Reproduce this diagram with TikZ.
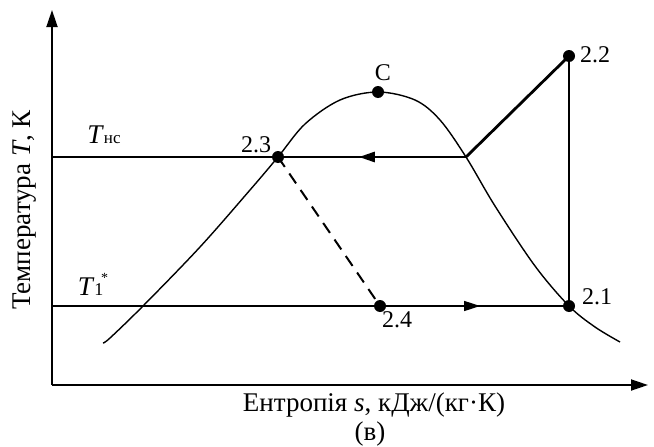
\documentclass[tikz,border=0pt]{standalone}
\usepackage{fontspec}
\setmainfont{Liberation Serif}
\usetikzlibrary{arrows.meta,decorations.markings}
\tikzset{
  axis/.style={line width=1.8pt,-{Triangle[length=17pt,width=11pt]}},
  thinline/.style={line width=1.4pt},
  thickline/.style={line width=2.8pt},
  dashline/.style={line width=2pt,dash pattern=on 12pt off 8pt},
  dot/.style={circle,fill=black,inner sep=0pt,minimum size=12pt},
  lbl/.style={font=\fontsize{24}{27}\selectfont,inner sep=0pt},
  axlbl/.style={font=\fontsize{27}{31}\selectfont,inner sep=0pt},
  midarrow/.style={postaction={decorate},decoration={markings,
      mark=at position #1 with {\arrow{Triangle[length=16pt,width=10pt]}}}}
}
\begin{document}
\begin{tikzpicture}[x=1pt,y=-1pt]
\useasboundingbox (0,0) rectangle (654,447);
% axes
\coordinate (O) at (52,385);
\coordinate (ytip) at (52,10);
\coordinate (xtip) at (648,385);
\draw[axis] (O) -- (ytip);
\draw[axis] (O) -- (xtip);
% reference points
\coordinate (ya) at (52,157);
\coordinate (yb) at (52,306);
\coordinate (X) at (466,157);
\node[dot] (p21) at (569,306) {};
\node[dot] (p22) at (569,56) {};
\node[dot] (p23) at (278,157) {};
\node[dot] (p24) at (380,306) {};
\node[dot] (C) at (378,92) {};
% saturation dome
\draw[thinline] plot[smooth,tension=0.55] coordinates {
 (103,343) (110,338) (143,306) (200,247) (250,190) (278,157) (305,124) (340,100)
 (378,92) (415,100) (440,120) (466,157) (495,206) (535,266) (569,306) (595,327) (620,342)};
% isotherms
\draw[thinline] (ya) -- (p23.center);
\draw[thickline,midarrow=0.57] (X) -- (p23.center);
\draw[thinline,midarrow=0.828] (yb) -- (p21.center);
% process lines
\draw[thickline] (X) -- (p22.center);
\draw[thickline] (p22.center) -- (p21.center);
\draw[dashline] (p23.center) -- (p24.center);
% labels
\node[lbl] (l23) at (256,145) {2.3};
\node[lbl] (lC) at (383,73) {C};
\node[lbl] (l22) at (595,55) {2.2};
\node[lbl] (l21) at (597,297) {2.1};
\node[lbl] (l24) at (397,320) {2.4};
\node[axlbl,anchor=base] (tnc) at (104,143) {\textit{T}{\fontsize{17}{17}\selectfont нс}};
\node[axlbl,anchor=base] (t1) at (93,295) {\textit{T}{\fontsize{18}{18}\selectfont 1\kern-0.12em\raisebox{0.72em}{\fontsize{14}{14}\selectfont *}}};
\node[axlbl,rotate=90] (ylab) at (25,210) {Температура \textit{T}, К};
\node[axlbl] (xlab) at (374,405) {Ентропія \textit{s}, кДж/(кг·К)};
\node[axlbl] (cap) at (370,434) {(в)};
\end{tikzpicture}
\end{document}
